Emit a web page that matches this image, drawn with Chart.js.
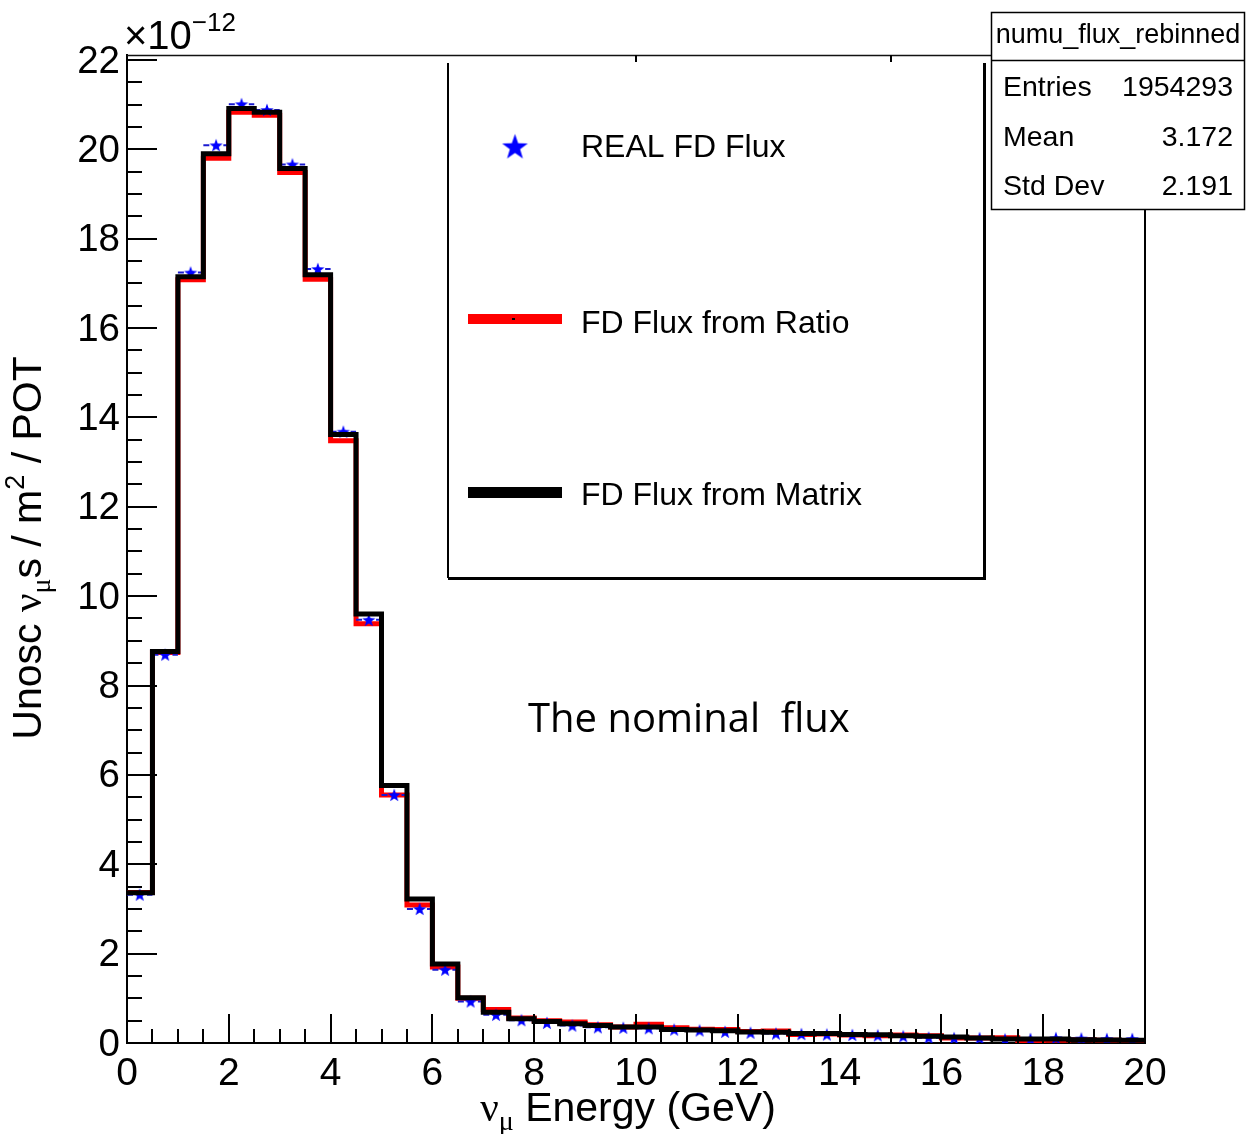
<!DOCTYPE html>
<html>
<head>
<meta charset="utf-8">
<script src="https://cdn.jsdelivr.net/npm/chart.js@4/dist/chart.umd.min.js"></script>
<style>
html,body{margin:0;padding:0;background:#fff;}
#wrap{position:relative;width:1246px;height:1134px;}
</style>
</head>
<body>
<div id="wrap"><canvas id="c" width="1246" height="1134"></canvas></div>
<script>
// ---- data (units of 1e-12 numu / m^2 / POT) ----
const binEdges = [0,0.5,1,1.5,2,2.5,3,3.5,4,4.5,5,5.5,6,6.5,7,7.5,8,8.5,9,9.5,10,
  10.5,11,11.5,12,12.5,13,13.5,14,14.5,15,15.5,16,16.5,17,17.5,18,18.5,19,19.5,20];
const realFlux = [3.32,8.69,17.24,20.09,21.01,20.88,19.66,17.32,13.68,9.47,
  5.55,3.00,1.64,0.93,0.63,0.51,0.45,0.39,0.35,0.34,
  0.33,0.30,0.28,0.25,0.23,0.21,0.20,0.19,0.18,0.17,
  0.15,0.12,0.11,0.11,0.08,0.09,0.11,0.10,0.09,0.09];
const ratioFlux = [3.37,8.74,17.08,19.80,20.83,20.76,19.48,17.09,13.48,9.38,
  5.55,3.09,1.70,1.00,0.75,0.56,0.50,0.47,0.41,0.36,
  0.42,0.34,0.31,0.30,0.26,0.27,0.19,0.20,0.18,0.16,
  0.18,0.165,0.11,0.11,0.12,0.055,0.06,0.07,0.06,0.05];
const matrixFlux = [3.36,8.76,17.15,19.90,20.91,20.83,19.57,17.19,13.62,9.60,
  5.76,3.22,1.77,1.01,0.69,0.54,0.48,0.43,0.39,0.36,
  0.36,0.30,0.29,0.275,0.245,0.24,0.215,0.215,0.19,0.185,
  0.165,0.15,0.135,0.11,0.09,0.09,0.09,0.07,0.065,0.06];
const xTicks = [0,2,4,6,8,10,12,14,16,18,20];
const yTicks = [0,2,4,6,8,10,12,14,16,18,20,22];
const legendLabels = ['REAL FD Flux','FD Flux from Ratio','FD Flux from Matrix'];
const statsTitle = 'numu_flux_rebinned';
const statsRows = [['Entries','1954293'],['Mean','3.172'],['Std Dev','2.191']];

// ---- helpers ----
function stepData(vals){
  const d = vals.map((v,i)=>({x:binEdges[i], y:v}));
  d.push({x:binEdges[binEdges.length-1], y:vals[vals.length-1]});
  return d;
}
function errData(vals){
  const d = [];
  vals.forEach((v,i)=>{
    d.push({x:binEdges[i], y:v});
    d.push({x:binEdges[i+1], y:v});
    d.push({x:binEdges[i+1], y:null});
  });
  return d;
}
function starCanvas(r, color){
  const s = Math.ceil(r*2+2);
  const cv = document.createElement('canvas');
  cv.width = s; cv.height = s;
  const c = cv.getContext('2d');
  c.fillStyle = color;
  c.beginPath();
  for (let k=0;k<10;k++){
    const rr = (k%2===0)? r : r*0.40;
    const a = -Math.PI/2 + k*Math.PI/5;
    const px = s/2 + rr*Math.cos(a), py = s/2 + 0.6 + rr*Math.sin(a);
    if(k===0) c.moveTo(px,py); else c.lineTo(px,py);
  }
  c.closePath(); c.fill();
  return cv;
}
const smallStar = starCanvas(7, '#0000ff');
const bigStar = starCanvas(13.5, '#0000ff');

function drawRich(ctx, parts, x, y, align){
  let w = 0;
  parts.forEach(p=>{ ctx.font = p.font; p.w = ctx.measureText(p.t).width; w += p.w; });
  let cx = align==='center' ? x - w/2 : (align==='right' ? x - w : x);
  ctx.textAlign = 'left'; ctx.textBaseline = 'alphabetic';
  parts.forEach(p=>{ ctx.font = p.font; ctx.fillText(p.t, cx, y + (p.dy||0)); cx += p.w; });
}

const SANS = '"Liberation Sans", Arial, Helvetica, sans-serif';
const SERIF = '"Liberation Serif", "Times New Roman", serif';

const rootPlugin = {
  id: 'rootDecor',
  afterDatasetsDraw(chart){
    const ctx = chart.ctx, xs = chart.scales.x, ys = chart.scales.y, a = chart.chartArea;
    ctx.save();
    ctx.strokeStyle = '#000';
    // tick marks (inside)
    ctx.lineWidth = 2;
    ctx.beginPath();
    for (let v=0; v<=20.001; v+=0.5){
      const px = Math.round(xs.getPixelForValue(v));
      const len = xTicks.includes(v) ? 29 : 14;
      ctx.moveTo(px, a.bottom); ctx.lineTo(px, a.bottom - len);
    }
    for (let v=0; v<=22.001; v+=0.5){
      const py = Math.round(ys.getPixelForValue(v));
      const len = yTicks.includes(v) ? 30 : 15;
      ctx.moveTo(a.left, py); ctx.lineTo(a.left + len, py);
    }
    ctx.stroke();
    // frame top & right
    ctx.lineWidth = 1.5; ctx.strokeStyle = '#111';
    ctx.beginPath();
    ctx.moveTo(a.left, a.top+0.5); ctx.lineTo(a.right, a.top+0.5);
    ctx.stroke();
    ctx.lineWidth = 2; ctx.strokeStyle = '#000';
    ctx.beginPath();
    ctx.moveTo(a.right, a.top); ctx.lineTo(a.right, a.bottom);
    [10,15].forEach(v=>{ const px = Math.round(xs.getPixelForValue(v)); ctx.moveTo(px,a.top); ctx.lineTo(px,a.top+7); });
    ctx.stroke();

    // legend box
    ctx.strokeStyle = '#000';
    ctx.lineWidth = 2;
    ctx.beginPath(); ctx.moveTo(448, 63); ctx.lineTo(448, 578); ctx.stroke();
    ctx.lineWidth = 3;
    ctx.beginPath(); ctx.moveTo(448, 578.5); ctx.lineTo(984.5, 578.5); ctx.lineTo(984.5, 63); ctx.stroke();
    // legend entries
    ctx.drawImage(bigStar, 515 - bigStar.width/2, 147 - bigStar.height/2);
    ctx.fillStyle = '#ff0000'; ctx.fillRect(468, 314, 94, 10);
    ctx.fillStyle = '#000'; ctx.fillRect(512, 318, 3, 2);
    ctx.fillStyle = '#000'; ctx.fillRect(468, 487, 94, 11);
    ctx.fillStyle = '#000';
    ctx.font = '32px ' + SANS; ctx.textAlign = 'left'; ctx.textBaseline = 'middle';
    ctx.fillText(legendLabels[0], 581, 148);
    ctx.fillText(legendLabels[1], 581, 324);
    ctx.fillText(legendLabels[2], 581, 496);

    // stats box
    ctx.fillStyle = '#fff';
    ctx.fillRect(991, 12, 254, 198);
    ctx.strokeStyle = '#000'; ctx.lineWidth = 1.5;
    ctx.strokeRect(991.5, 12.5, 253, 197);
    ctx.beginPath(); ctx.moveTo(991, 60.5); ctx.lineTo(1245, 60.5); ctx.stroke();
    ctx.fillStyle = '#000';
    ctx.font = '27px ' + SANS; ctx.textBaseline = 'middle';
    ctx.textAlign = 'center'; ctx.fillText(statsTitle, 1118, 36);
    ctx.font = '28.5px ' + SANS;
    const rowY = [88, 138, 187];
    statsRows.forEach((r,i)=>{
      ctx.textAlign = 'left'; ctx.fillText(r[0], 1003, rowY[i]);
      ctx.textAlign = 'right'; ctx.fillText(r[1], 1233, rowY[i]);
    });

    // exponent label
    ctx.fillStyle = '#000';
    drawRich(ctx, [{t:'\u00d710', font:'40px '+SANS},{t:'\u221212', font:'26px '+SANS, dy:-18}], 124, 49, 'left');

    // x title
    drawRich(ctx, [
      {t:'\u03bd', font:'41px '+SERIF},
      {t:'\u03bc', font:'28px '+SERIF, dy:9},
      {t:' Energy (GeV)', font:'41px '+SANS}
    ], 628, 1121, 'center');

    // y title (rotated)
    ctx.save();
    ctx.translate(41, 548);
    ctx.rotate(-Math.PI/2);
    drawRich(ctx, [
      {t:'Unosc ', font:'41px '+SANS},
      {t:'\u03bd', font:'41px '+SERIF},
      {t:'\u03bc', font:'28px '+SERIF, dy:9},
      {t:'s / m', font:'41px '+SANS},
      {t:'2', font:'27px '+SANS, dy:-17},
      {t:' / POT', font:'41px '+SANS}
    ], 0, 0, 'center');
    ctx.restore();

    // annotation
    ctx.font = '40px "Open Sans", sans-serif';
    ctx.textAlign = 'left'; ctx.textBaseline = 'alphabetic';
    ctx.fillText('The nominal  flux', 528, 732);
    ctx.restore();
  }
};

new Chart(document.getElementById('c'), {
  type: 'line',
  data: {
    datasets: [
      { label: legendLabels[2], data: stepData(matrixFlux), stepped: 'before',
        borderColor: '#000', borderWidth: 5, pointRadius: 0, fill: false, order: 0 },
      { label: legendLabels[0], type: 'scatter', data: binEdges.slice(0,-1).map((e,i)=>({x:(e+binEdges[i+1])/2, y:realFlux[i]})),
        pointStyle: smallStar, pointRadius: 7, showLine: false, order: 1 },
      { label: 'err', data: errData(realFlux), borderColor: '#1a1ad0', borderWidth: 2,
        borderDash: [6,4], pointRadius: 0, spanGaps: false, fill: false, order: 2 },
      { label: legendLabels[1], data: stepData(ratioFlux), stepped: 'before',
        borderColor: '#ff0000', borderWidth: 5, pointRadius: 0, fill: false, order: 3 }
    ]
  },
  options: {
    responsive: false,
    animation: false,
    events: [],
    layout: { padding: { top: 55, right: 101, left: 0, bottom: 0 } },
    plugins: { legend: { display: false }, tooltip: { enabled: false } },
    scales: {
      x: {
        type: 'linear', position: 'bottom', min: 0, max: 20,
        afterBuildTicks: s => { s.ticks = xTicks.map(v=>({value:v})); },
        afterFit: s => { s.height = 91; },
        grid: { display: false, drawTicks: false },
        border: { display: true, color: '#000', width: 2 },
        ticks: { color: '#000', padding: 8, maxRotation: 0, autoSkip: false,
          font: { size: 39, family: SANS } }
      },
      y: {
        type: 'linear', position: 'left', min: 0, max: 22.11,
        afterBuildTicks: s => { s.ticks = yTicks.map(v=>({value:v})); },
        afterFit: s => { s.width = 127; },
        grid: { display: false, drawTicks: false },
        border: { display: true, color: '#000', width: 2 },
        ticks: { color: '#000', padding: 7, autoSkip: false, labelOffset: 2,
          font: { size: 38.5, family: SANS } }
      }
    }
  },
  plugins: [rootPlugin]
});
</script>
</body>
</html>
